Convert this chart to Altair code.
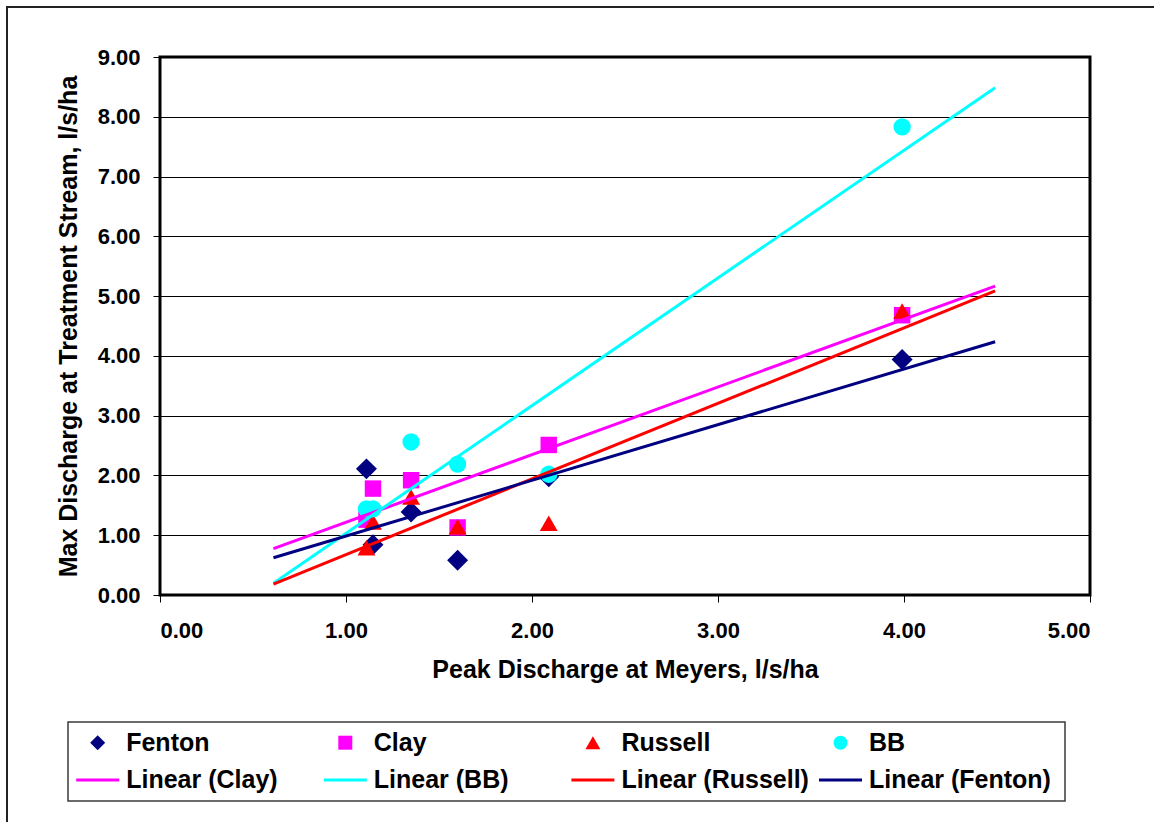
import altair as alt
import pandas as pd

# ---- data ----
sites = ["Fenton", "Clay", "Russell", "BB"]
meyers_peak = [1.11, 1.145, 1.35, 1.60, 2.09, 3.99]
fenton = [2.11, 0.84, 1.39, 0.58, 1.98, 3.94]
clay = [1.26, 1.78, 1.92, 1.13, 2.51, 4.68]
russell = [0.79, 1.22, 1.64, 1.14, 1.20, 4.75]
bb = [1.44, 1.44, 2.56, 2.19, 2.02, 7.83]
x_ticks = [0, 1, 2, 3, 4, 5]
y_ticks = [0, 1, 2, 3, 4, 5, 6, 7, 8, 9]
marker_labels = ["Fenton", "Clay", "Russell", "BB"]
line_labels = ["Linear (Clay)", "Linear (BB)", "Linear (Russell)", "Linear (Fenton)"]
line_sites = ["Clay", "BB", "Russell", "Fenton"]

series = {"Fenton": fenton, "Clay": clay, "Russell": russell, "BB": bb}
colors = {"Fenton": "#000080", "Clay": "#FF00FF", "Russell": "#FF0000", "BB": "#00FFFF"}
shapes = {"Fenton": "diamond", "Clay": "square", "Russell": "triangle-up", "BB": "circle"}
sizes = {"Fenton": 440, "Clay": 270, "Russell": 320, "BB": 300}
leg_sizes = {"Fenton": 225, "Clay": 196, "Russell": 225, "BB": 196}

rows = []
for s in sites:
    for xv, yv in zip(meyers_peak, series[s]):
        rows.append({"site": s, "x": xv, "y": yv})
df = pd.DataFrame(rows)

FONT = "Liberation Sans"
W, H = 930, 538
lo = min(meyers_peak) - 0.5
hi = max(meyers_peak) + 0.5

X = alt.X("x:Q", scale=alt.Scale(domain=[0, 5], nice=False, zero=False),
          axis=alt.Axis(values=x_ticks, format=".2f", title="Peak Discharge at Meyers, l/s/ha",
                        grid=False, domain=False, tickSize=7, labelPadding=18, titlePadding=16))
Y = alt.Y("y:Q", scale=alt.Scale(domain=[0, 9], nice=False, zero=False),
          axis=alt.Axis(values=y_ticks, format=".2f", title="Max Discharge at Treatment Stream, l/s/ha",
                        grid=True, domain=False, tickSize=7, labelPadding=13, titlePadding=16))

layers = []
for s in sites:
    layers.append(
        alt.Chart(df).transform_filter(alt.datum.site == s)
        .mark_point(shape=shapes[s], size=sizes[s], filled=True, color=colors[s], opacity=1)
        .encode(x=X, y=Y)
    )
for s in line_sites:
    layers.append(
        alt.Chart(df).transform_filter(alt.datum.site == s)
        .transform_regression("x", "y", extent=[lo, hi])
        .mark_line(color=colors[s], strokeWidth=3)
        .encode(x=X, y=Y)
    )
main = alt.layer(*layers)

# ---- legend and frames (own scales, placed below the plot) ----
LX = alt.X("col:Q", scale=alt.Scale(domain=[0, 3], range=[-62.3, 680.5]), axis=None)
LY = alt.Y("row:Q", scale=alt.Scale(domain=[0, 1], range=[685.7, 723]), axis=None)

one = pd.DataFrame({"a": [0]})
plot_frame = alt.Chart(one).mark_rect(filled=False, stroke="black", strokeWidth=3).encode(
    x=alt.value(0), x2=alt.value(W), y=alt.value(0), y2=alt.value(H))
box = alt.Chart(one).mark_rect(filled=False, stroke="#3a3a3a", strokeWidth=1.5).encode(
    x=alt.value(-92), x2=alt.value(905), y=alt.value(665), y2=alt.value(744))
frame = alt.Chart(one).mark_rect(filled=False, stroke="#222222", strokeWidth=2).encode(
    x=alt.value(-153), x2=alt.value(1010), y=alt.value(-50), y2=alt.value(780))
leg_layers = [plot_frame, box, frame]
for i, s in enumerate(marker_labels):
    leg_layers.append(
        alt.Chart(pd.DataFrame({"col": [i], "row": [0]}))
        .mark_point(shape=shapes[s], size=leg_sizes[s], filled=True, color=colors[s], opacity=1)
        .encode(x=LX, y=LY)
    )
for i, s in enumerate(line_sites):
    leg_layers.append(
        alt.Chart(pd.DataFrame({"col": [i], "row": [1]}))
        .mark_point(shape="stroke", size=43 * 43, filled=False, color=colors[s], strokeWidth=3, opacity=1)
        .encode(x=LX, y=LY)
    )
text_df = pd.DataFrame(
    [{"col": i, "row": 0, "label": l} for i, l in enumerate(marker_labels)]
    + [{"col": i, "row": 1, "label": l} for i, l in enumerate(line_labels)]
)
leg_layers.append(
    alt.Chart(text_df).mark_text(align="left", baseline="middle", dx=28.5, font=FONT,
                                 fontSize=25, fontWeight="bold", color="black")
    .encode(x=LX, y=LY, text="label:N")
)
legend = alt.layer(*leg_layers)

chart = (
    alt.layer(main, legend)
    .resolve_scale(x="independent", y="independent")
    .properties(width=W, height=H, autosize=alt.AutoSizeParams(type="none"),
                padding={"left": 160, "top": 57, "right": 64, "bottom": 227})
    .configure_view(stroke="black", strokeWidth=3, fill="white")
    .configure(background="white")
    .configure_axis(labelFont=FONT, labelFontSize=22, labelFontWeight="bold", labelColor="black",
                    titleFont=FONT, titleFontSize=25, titleFontWeight="bold", titleColor="black",
                    tickColor="black", tickWidth=1, gridColor="black", gridWidth=1, gridOpacity=1)
)

chart.save("out.html", embed_options={"renderer": "svg", "actions": False})
